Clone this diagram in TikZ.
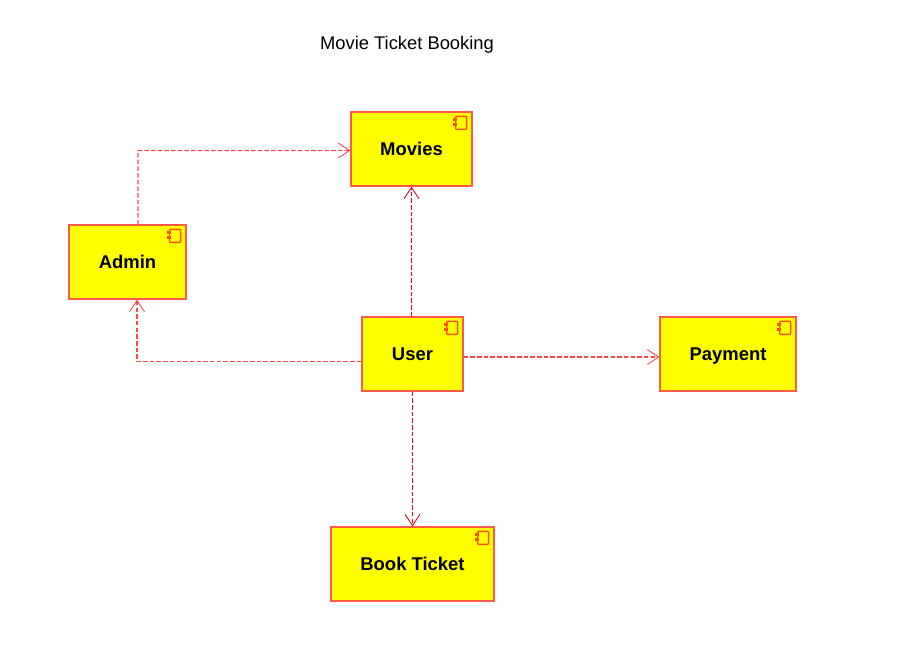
\documentclass[tikz,border=0pt]{standalone}
\usepackage{fontspec}
\setmainfont{Liberation Sans}
\usetikzlibrary{arrows.meta}
\definecolor{boxred}{RGB}{255,90,70}
\definecolor{boxyellow}{RGB}{255,255,0}
\definecolor{iconred}{RGB}{255,80,0}
\definecolor{deplight}{RGB}{255,70,70}
\definecolor{depdark}{RGB}{235,0,20}
\tikzset{
    compbox/.style={draw=boxred, fill=boxyellow, line width=0.75pt, minimum height=1.48cm, inner sep=0pt, text height=8.5pt, text depth=1pt, font=\bfseries\fontsize{10.5}{12}\selectfont},
    dep/.style={draw=deplight, line width=0.7pt, dash pattern=on 2.6pt off 1.2pt, arrows={-{Straight Barb[length=6.4pt,width=8.5pt,line width=0.5pt]}}},
    deepdep/.style={dep, draw=depdark, line width=0.6pt}
}
\begin{document}
\begin{tikzpicture}[x=0.02cm, y=-0.02cm]
    \useasboundingbox (0,0) rectangle (922,667);
    \node[font=\fontsize{10.45}{12}\selectfont] (title) at (407,44.5) {Movie Ticket Booking};

    \node[compbox, minimum width=2.42cm] (movies) at (411.5,149) {Movies};
    \node[compbox, minimum width=2.34cm] (admin) at (127.5,262) {Admin};
    \node[compbox, minimum width=2.02cm] (user) at (412.5,354) {User};
    \node[compbox, minimum width=2.72cm] (payment) at (728,354) {Payment};
    \node[compbox, minimum width=3.26cm] (book) at (412.5,564) {Book Ticket};

    \coordinate (adminbend) at (138,150.5);
    \coordinate (userbend) at (137,361.5);

    \draw[dep] ([xshift=0.21cm]admin.north) -- (adminbend) -- (adminbend -| movies.west);
    \draw[deepdep] ([xshift=-0.02cm]user.north) -- ([xshift=-0.02cm]user.north |- movies.south);
    \draw[dep] (userbend -| user.west) -- (userbend) -- (userbend |- admin.south);
    \draw[dep] ([yshift=-0.06cm]user.east) -- ([yshift=-0.06cm]user.east -| payment.west);
    \draw[deepdep] (user.south) -- (book.north);

    % component icons in the corners
    \foreach \p in {movies,admin,user,payment,book} {
        \draw[iconred, line width=0.75pt, rounded corners=0.5pt] ([shift={(-17,5)}]\p.north east) rectangle ([shift={(-6,18)}]\p.north east);
        \fill[iconred] ([shift={(-20,7)}]\p.north east) rectangle ([shift={(-16,10)}]\p.north east);
        \fill[iconred] ([shift={(-20,11.5)}]\p.north east) rectangle ([shift={(-16,14.5)}]\p.north east);
    }
\end{tikzpicture}
\end{document}
